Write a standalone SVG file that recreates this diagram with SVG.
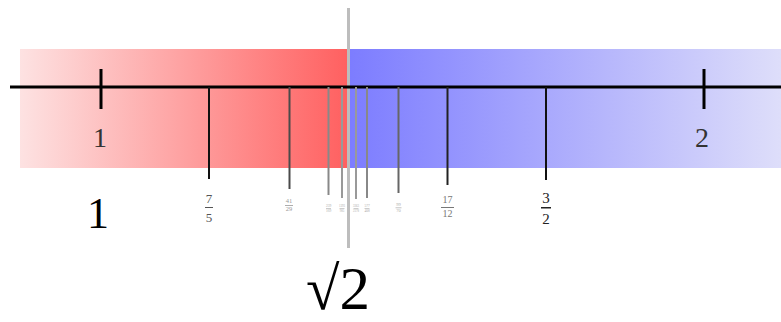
<svg xmlns="http://www.w3.org/2000/svg" width="781" height="322" viewBox="0 0 781 322">
<defs>
<linearGradient id="gr" x1="0" y1="0" x2="1" y2="0">
<stop offset="0" stop-color="#fde2e2"/>
<stop offset="1" stop-color="#ff6060"/>
</linearGradient>
<linearGradient id="gb" x1="0" y1="0" x2="1" y2="0">
<stop offset="0" stop-color="#7c7cff"/>
<stop offset="1" stop-color="#dedefa"/>
</linearGradient>
<style>
.s{font-family:"Liberation Serif","DejaVu Serif",serif;text-anchor:middle}
.f{font-family:"Liberation Serif","DejaVu Serif",serif;text-anchor:middle}
</style>
</defs>
<g id="bands">
<rect x="20" y="49" width="328" height="119" fill="url(#gr)"/>
<rect x="348" y="49" width="433" height="119" fill="url(#gb)"/>
</g>
<line id="sqrt2-line" x1="348.5" y1="8" x2="348.5" y2="248" stroke="#bdbdbd" stroke-width="3"/>
<g id="axis" stroke="#000" stroke-width="3">
<line x1="10" y1="87" x2="781" y2="87"/>
<line x1="101" y1="69" x2="101" y2="109"/>
<line x1="704" y1="69" x2="704" y2="109"/>
</g>
<g id="convergent-ticks" fill="none">
<line x1="209" y1="87" x2="209" y2="179" stroke="#111" stroke-width="2"/>
<line x1="546" y1="87" x2="546" y2="180" stroke="#111" stroke-width="2"/>
<line x1="447.5" y1="87" x2="447.5" y2="185" stroke="#222" stroke-width="2"/>
<line x1="289.5" y1="87" x2="289.5" y2="189" stroke="#4a4a4a" stroke-width="2"/>
<line x1="398.5" y1="87" x2="398.5" y2="193" stroke="#666" stroke-width="2"/>
<line x1="328.5" y1="87" x2="328.5" y2="195" stroke="#888" stroke-width="2"/>
<line x1="367" y1="87" x2="367" y2="198" stroke="#888" stroke-width="2"/>
<line x1="342" y1="87" x2="342" y2="198" stroke="#999" stroke-width="2"/>
<line x1="356" y1="87" x2="356" y2="199" stroke="#999" stroke-width="2"/>
</g>
<g id="labels">
<text class="s" x="100" y="147" font-size="28" fill="#333">1</text>
<text class="s" x="702" y="147" font-size="28" fill="#333">2</text>
<text class="s" x="98" y="228" font-size="44" fill="#000">1</text>
<text class="s" x="338" y="309" font-size="61" fill="#000">√2</text>
</g>
<g id="fractions">
<g fill="#555">
<text class="f" x="209" y="203" font-size="13">7</text>
<rect x="205" y="207" width="8" height="1"/>
<text class="f" x="209" y="222" font-size="13">5</text>
</g>
<g fill="#222">
<text class="f" x="546" y="203" font-size="15">3</text>
<rect x="541" y="207" width="10" height="1.5"/>
<text class="f" x="546" y="224" font-size="15">2</text>
</g>
<g fill="#777">
<text class="f" x="447.5" y="203" font-size="10">17</text>
<rect x="441" y="207" width="13" height="1"/>
<text class="f" x="447.5" y="217" font-size="10">12</text>
</g>
<g fill="#999">
<text class="f" x="289" y="203" font-size="6.5">41</text>
<rect x="285" y="205" width="8" height="0.8"/>
<text class="f" x="289" y="211" font-size="6.5">29</text>
</g>
<g fill="#aaa">
<text class="f" x="398.5" y="206" font-size="4.5">99</text>
<rect x="395.5" y="207.5" width="6" height="0.7"/>
<text class="f" x="398.5" y="212" font-size="4.5">70</text>
<text class="f" x="328.5" y="207" font-size="3.5">239</text>
<rect x="326" y="208" width="5" height="0.6"/>
<text class="f" x="328.5" y="212" font-size="3.5">169</text>
<text class="f" x="367" y="207" font-size="3.5">577</text>
<rect x="364.5" y="208" width="5" height="0.6"/>
<text class="f" x="367" y="212" font-size="3.5">408</text>
<text class="f" x="342" y="207" font-size="3">1393</text>
<rect x="339.5" y="208" width="5" height="0.6"/>
<text class="f" x="342" y="212" font-size="3">985</text>
<text class="f" x="356" y="207" font-size="3">3363</text>
<rect x="353.5" y="208" width="5" height="0.6"/>
<text class="f" x="356" y="212" font-size="3">2378</text>
</g>
</g>
</svg>
